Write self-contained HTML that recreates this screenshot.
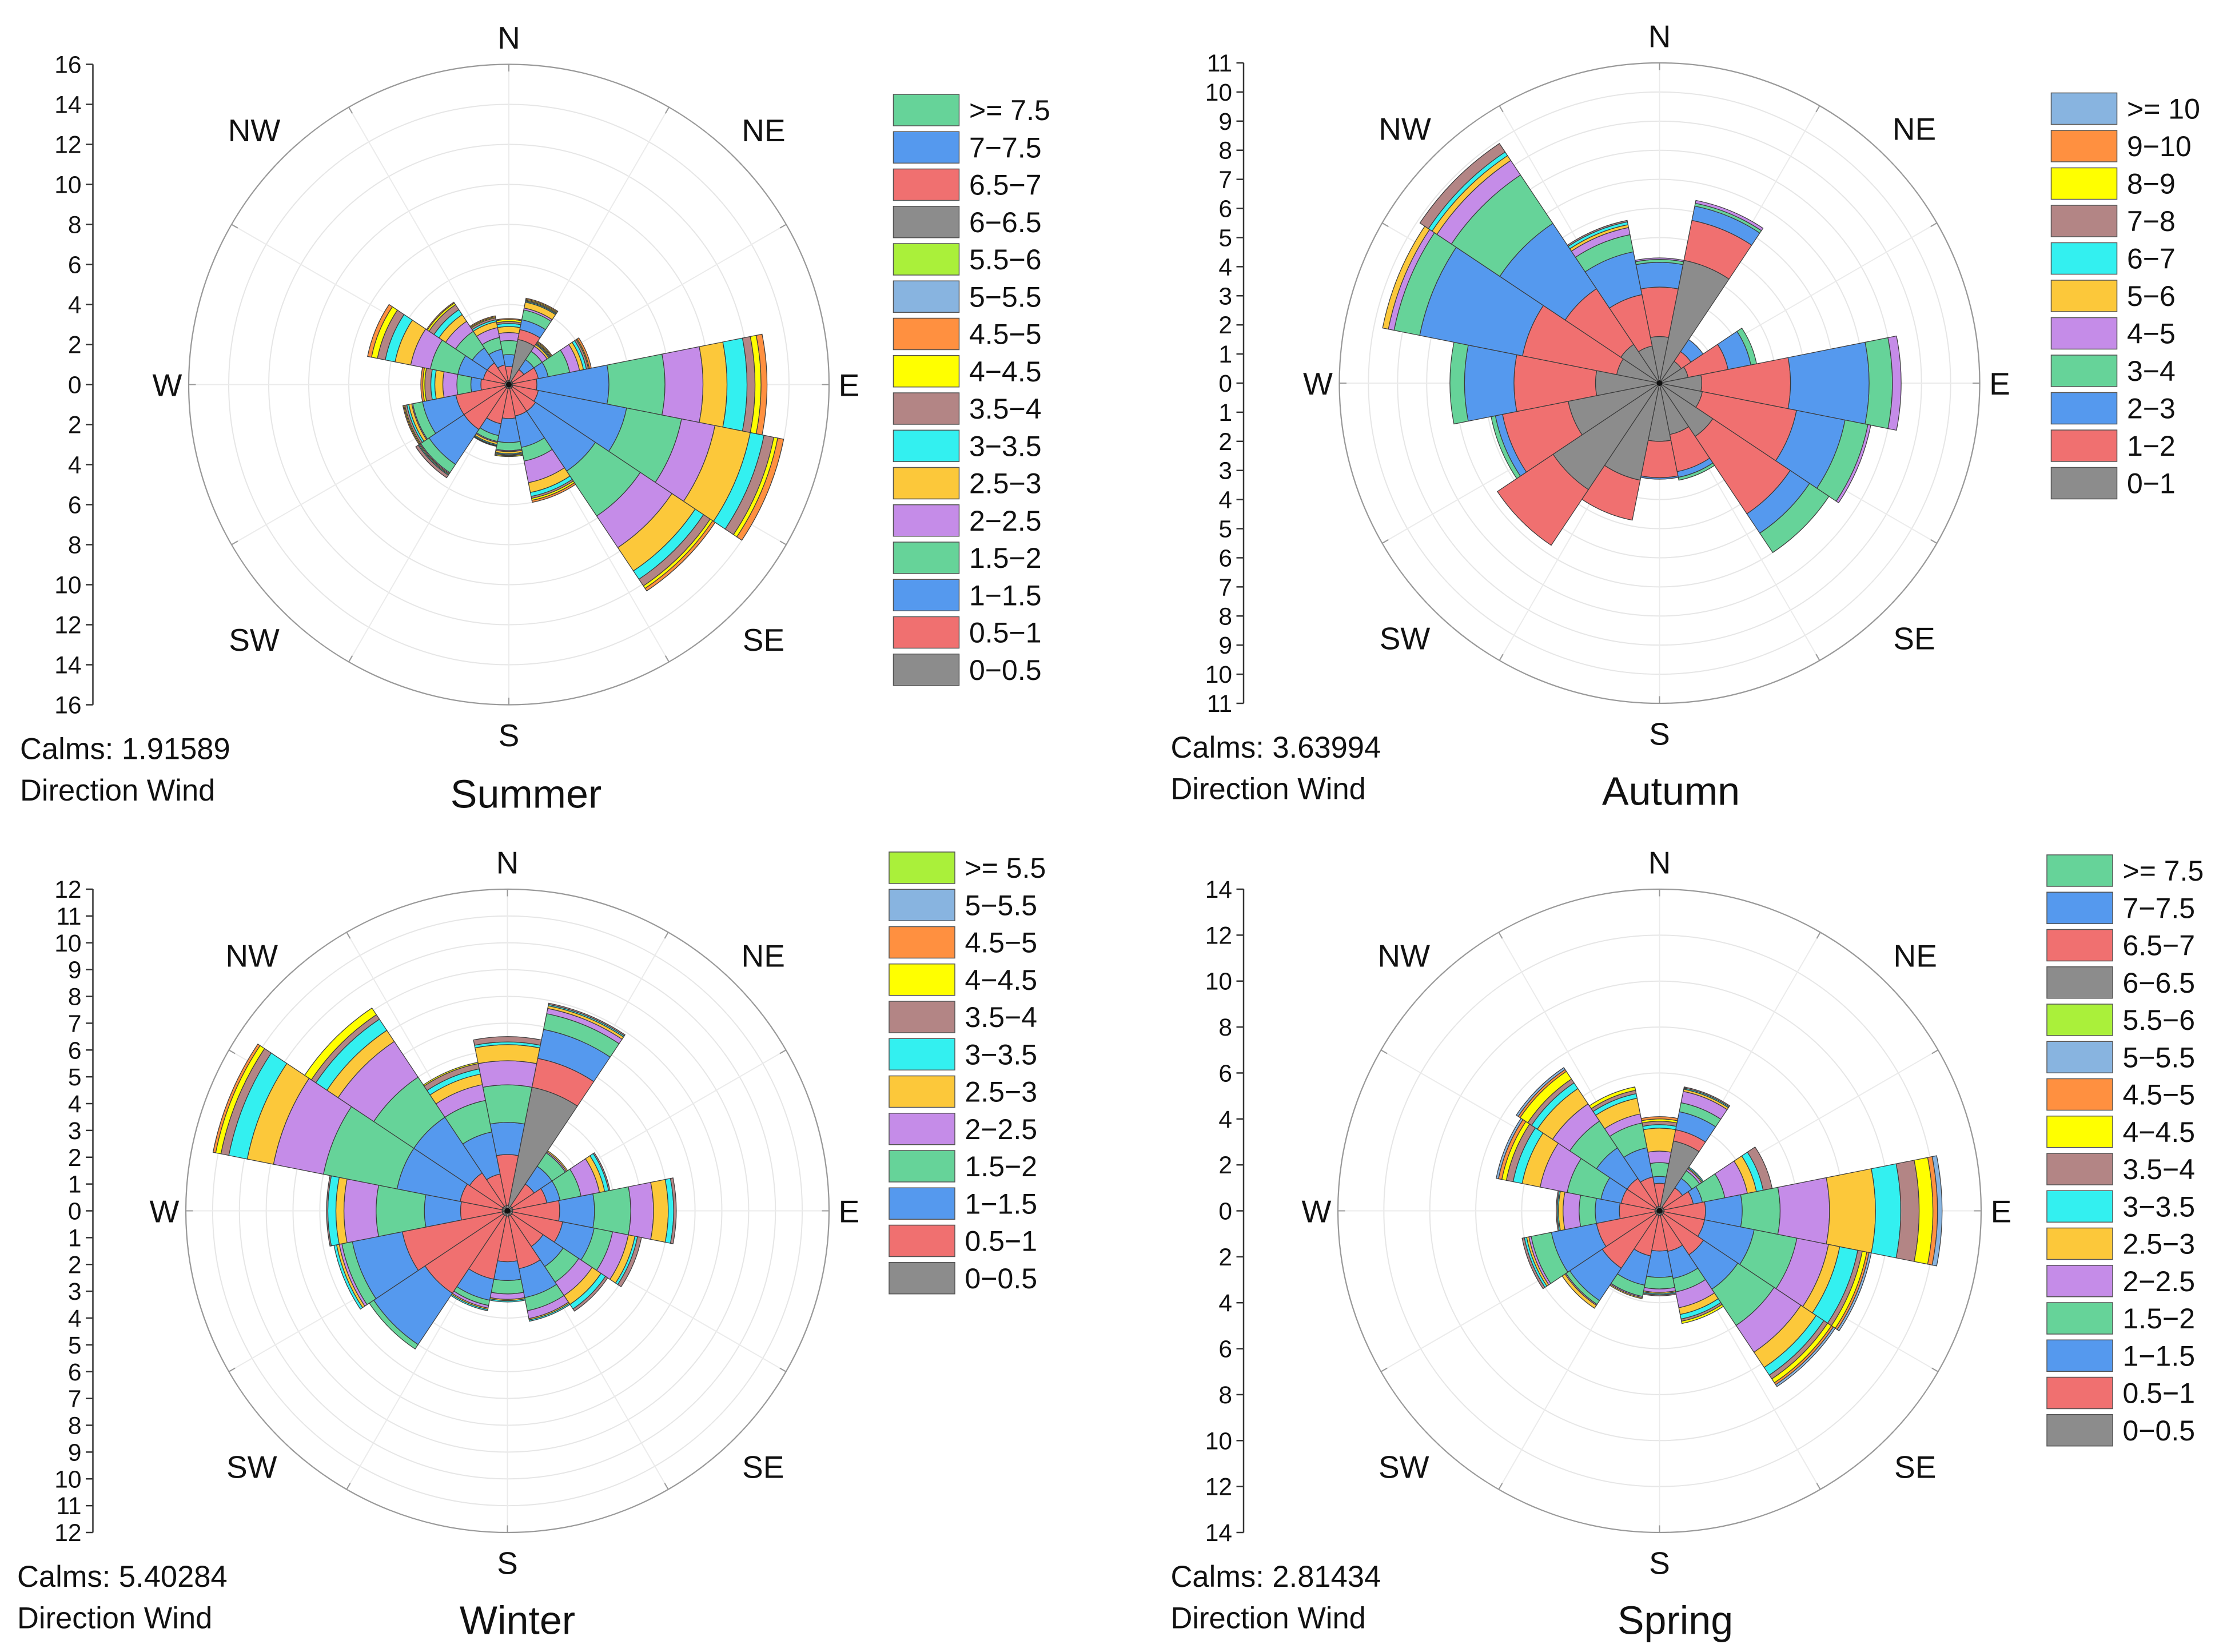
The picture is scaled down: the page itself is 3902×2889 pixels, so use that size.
<!DOCTYPE html>
<html><head><meta charset="utf-8"><style>
html,body{margin:0;padding:0;background:#fff}
svg{display:block}
text{font-family:"Liberation Sans",Arial,sans-serif;fill:#111}
</style></head><body>
<svg id="root" xmlns="http://www.w3.org/2000/svg" width="3902" height="2889" viewBox="0 0 1560.8 1155.6"></svg>
<script>
// shared
const dirNames = ["N","NNE","NE","ENE","E","ESE","SE","SSE","S","SSW","SW","WSW","W","WNW","NW","NNW"];
const palette = ["#8c8c8c","#f07070","#5599ee","#66d399","#c58ce8","#fcc83a","#33f0f0","#b38585","#ffff00","#ff9040","#88b4e0","#aaf03a","#8c8c8c","#f07070","#5599ee","#66d399"];

// Summer: cumulative frequency (%) per direction, per speed bin
const summerBins = ["0−0.5","0.5−1","1−1.5","1.5−2","2−2.5","2.5−3","3−3.5","3.5−4","4−4.5","4.5−5","5−5.5","5.5−6","6−6.5","6.5−7","7−7.5",">= 7.5"];
const summerCum = [
[0.2,0.9,1.5,2.2,2.6,2.9,3.05,3.15,3.25,3.3],
[2.3,2.8,3.3,3.8,3.9,4.2,4.25,4.3,4.35,4.4],
[0.2,0.9,1.5,2.0,2.3,2.4,2.45,2.5,2.55,2.6],
[0.2,1.5,2.0,3.1,3.6,3.8,3.95,4.05,4.1,4.2],
[0.2,1.4,5.0,7.8,9.7,10.9,11.9,12.3,12.6,12.9],
[0.2,1.5,6.0,8.8,10.5,12.3,13.0,13.5,13.7,14.0],
[0.2,1.6,5.2,7.9,9.8,11.2,11.7,12.1,12.25,12.4],
[0.2,1.6,3.2,3.9,5.0,5.5,5.7,5.8,5.9,6.0],
[0.2,1.7,2.9,3.3,3.35,3.45,3.5,3.55,3.6,3.6],
[0.2,2.0,2.6,2.9,2.95,3.05,3.1,3.12,3.15,3.15],
[0.2,2.7,4.8,5.3,5.35,5.4,5.45,5.6,5.6,5.6],
[0.2,2.7,4.4,4.9,4.95,5.1,5.2,5.3,5.35,5.4],
[0.2,1.4,1.9,2.6,3.3,3.7,3.9,4.2,4.3,4.4],
[0.2,1.3,2.6,4.0,5.0,5.8,6.3,6.7,7.0,7.2],
[0.2,1.3,2.2,3.2,3.8,4.2,4.5,4.8,4.9,4.95],
[0.2,1.0,1.8,2.4,2.9,3.2,3.3,3.4,3.45,3.5]];
const summerTicks = [16,14,12,10,8,6,4,2,0];

// Autumn
const autumnBins = ["0−1","1−2","2−3","3−4","4−5","5−6","6−7","7−8","8−9","9−10",">= 10"];
const autumnCum = [
[1.6,3.3,4.15,4.25,4.3],
[4.3,5.7,6.2,6.3,6.4],
[0.9,1.3,1.8],
[1.0,2.4,3.2,3.4],
[1.45,4.5,7.2,8.0,8.3],
[1.5,4.8,6.5,7.3,7.4],
[2.2,5.4,6.2,7.0],
[1.8,3.1,3.3,3.4],
[2.0,3.25,3.3],
[3.4,4.8],
[4.4,6.7],
[3.2,5.5,5.75,5.9],
[2.2,5.0,6.7,7.2],
[1.5,4.8,8.4,9.3,9.5,9.7],
[1.6,3.9,6.6,8.6,9.2,9.4,9.55,9.9],
[1.3,3.1,4.6,5.2,5.45,5.55,5.65,5.7]];
const autumnTicks = [11,10,9,8,7,6,5,4,3,2,1,0];

// Winter
const winterBins = ["0−0.5","0.5−1","1−1.5","1.5−2","2−2.5","2.5−3","3−3.5","3.5−4","4−4.5","4.5−5","5−5.5",">= 5.5"];
const winterCum = [
[0.2,2.1,3.3,4.7,5.6,6.2,6.3,6.5],
[4.7,5.8,6.9,7.5,7.7,7.8,7.85,7.9],
[0.2,1.2,2.0,2.6,2.65,2.7],
[0.2,1.5,2.0,2.8,3.5,3.7,3.85,3.9],
[0.2,1.95,3.25,4.6,5.45,6.0,6.2,6.3],
[0.2,2.1,3.3,4.0,4.6,4.85,4.95,5.1],
[0.2,1.6,2.5,3.2,3.8,4.2,4.4,4.5],
[0.2,2.2,3.3,3.8,4.1,4.15,4.2],
[0.2,1.9,2.6,3.1,3.3,3.35,3.4],
[0.2,2.6,3.4,3.6,3.7,3.75,3.8],
[0.2,3.7,6.0,6.2],
[0.2,4.0,5.9,6.3,6.4,6.5,6.6],
[0.2,1.75,3.1,4.9,6.1,6.4,6.7,6.75],
[0.2,1.8,4.2,7.0,8.9,9.9,10.6,10.9,11.1,11.2],
[0.2,1.7,4.2,6.0,7.6,8.1,8.6,8.8,9.1],
[0.2,1.4,3.0,4.2,4.8,5.2,5.4,5.6,5.65]];
const winterTicks = [12,11,10,9,8,7,6,5,4,3,2,1,0];

// Spring
const springBins = summerBins;
const springCum = [
[0.2,1.2,1.5,2.1,2.6,3.6,3.75,3.9,4.0,4.1],
[3.1,3.6,4.4,4.8,5.3,5.4,5.45,5.5],
[0.2,1.2,1.7,2.1,2.2,2.25,2.3],
[0.2,1.5,1.9,2.9,3.9,4.3,4.6,5.0],
[0.2,2.0,3.6,5.25,7.4,9.4,10.5,11.3,11.9,12.1,12.3],
[0.2,2.0,4.2,6.1,7.5,8.0,8.8,9.0,9.2,9.3,9.4],
[0.2,2.3,4.1,6.0,7.4,8.2,8.6,8.8,9.0,9.1,9.2],
[0.2,1.8,3.0,3.6,4.3,4.6,4.8,4.9,5.0],
[0.2,1.75,2.9,3.4,3.55,3.6,3.65,3.7],
[0.2,2.0,3.3,3.8,3.85,3.9],
[0.2,3.0,4.7,4.9,4.95,5.1],
[0.2,2.8,4.8,5.7,5.8,5.9,6.0,6.1],
[0.2,1.75,2.8,3.5,4.2,4.4,4.45,4.5],
[0.2,1.7,2.6,4.1,5.3,6.1,6.5,6.8,7.0,7.15,7.25],
[0.2,1.7,3.3,4.7,5.6,6.4,6.7,6.9,7.3,7.4,7.5],
[0.2,1.5,2.8,3.9,4.3,5.0,5.2,5.35,5.5]];
const springTicks = [14,12,10,8,6,4,2,0];

const NS = "http://www.w3.org/2000/svg";
const root = document.getElementById('root');
function mk(tag, attrs, parent, txt){
  const e = document.createElementNS(NS, tag);
  for (const k in attrs) e.setAttribute(k, attrs[k]);
  if (txt !== undefined) e.textContent = txt;
  (parent || root).appendChild(e);
  return e;
}
function pol(cx, cy, r, deg){ const a = deg*Math.PI/180; return [cx + r*Math.sin(a), cy - r*Math.cos(a)]; }
function sector(cx, cy, r0, r1, a0, a1){
  const p1 = pol(cx,cy,r1,a0), p2 = pol(cx,cy,r1,a1);
  if (r0 <= 0.01) return `M${cx},${cy}L${p1[0]},${p1[1]}A${r1},${r1} 0 0 1 ${p2[0]},${p2[1]}Z`;
  const q1 = pol(cx,cy,r0,a1), q2 = pol(cx,cy,r0,a0);
  return `M${q2[0]},${q2[1]}L${p1[0]},${p1[1]}A${r1},${r1} 0 0 1 ${p2[0]},${p2[1]}L${q1[0]},${q1[1]}A${r0},${r0} 0 0 0 ${q2[0]},${q2[1]}Z`;
}

function drawRose(o){
  const g = mk('g', {});
  
  
  const {cx, cy, R, max} = o;
  const rs = v => v * R / max;
  const grid = mk('g', {}, g);
  
  
  for (let v = o.ring; v < max - 1e-6; v += o.ring) {
    mk('circle', {cx, cy, r: rs(v), fill:'none', stroke:'#e6e6e6', 'stroke-width':0.8}, grid);
  }
  for (let a = 0; a < 360; a += 30) {
    const p = pol(cx, cy, R, a);
    mk('line', {x1:cx, y1:cy, x2:p[0], y2:p[1], stroke:'#ebebeb', 'stroke-width':0.8}, grid);
    const t = pol(cx, cy, R - 5, a);
    mk('line', {x1:t[0], y1:t[1], x2:p[0], y2:p[1], stroke:'#999', 'stroke-width':0.8}, grid);
  }
  const oc = mk('circle', {cx, cy, r: R, fill:'none', stroke:'#999', 'stroke-width':0.9}, g);
  
  
  o.cum.forEach((arr, d) => {
    const a0 = d*22.5 - 11.25, a1 = d*22.5 + 11.25;
    let prev = 0;
    arr.forEach((v, b) => {
      if (v - prev > 0.001) {
        const p = mk('path', {d: sector(cx, cy, rs(prev), rs(v), a0, a1), fill: palette[b], stroke:'#3a3a3a', 'stroke-width':0.5}, g);
        
        
      }
      prev = v;
    });
  });
  mk('circle', {cx, cy, r:2, fill:'#111'}, g);
  const lab = [["N",0,R+19],["NE",45,R+28],["E",90,R+14],["SE",135,R+28],["S",180,R+21],["SW",225,R+28],["W",270,R+15],["NW",315,R+28]];
  lab.forEach(l => {
    const p = pol(cx, cy, l[2], l[1]);
    const t = mk('text', {x:p[0], y:p[1]+8, 'font-size':22, 'text-anchor':'middle'}, g, l[0]);
    
    
  });
  const ax = mk('g', {}, g);
  
  
  mk('line', {x1:o.ax, y1:cy-R, x2:o.ax, y2:cy+R, stroke:'#333', 'stroke-width':1}, ax);
  const all = o.ticks.concat(o.ticks.slice(0, -1).reverse().map(v => -v));
  all.forEach(v => {
    const y = cy - rs(v);
    mk('line', {x1:o.ax-5, y1:y, x2:o.ax, y2:y, stroke:'#333', 'stroke-width':1}, ax);
    const t = mk('text', {x:o.ax-8, y:y+6, 'font-size':17, 'text-anchor':'end'}, ax, String(Math.abs(v)));
    
    
  });
  const lg = mk('g', {}, g);
  
  
  const n = o.bins.length;
  for (let i = 0; i < n; i++) {
    const b = n - 1 - i;
    const y = o.ly + i*o.lstep;
    const e = mk('g', {}, lg);
    
    
    mk('rect', {x:o.lx, y:y, width:46, height:22, fill:palette[b], stroke:'#555', 'stroke-width':0.6}, e);
    mk('text', {x:o.lx+53, y:y+18, 'font-size':20}, e, o.bins[b]);
  }
  const c1 = mk('text', {x:o.calx, y:o.caly, 'font-size':21}, g, 'Calms: ' + o.calms);
  
  
  const c2 = mk('text', {x:o.calx, y:o.caly+29, 'font-size':21}, g, 'Direction Wind');
  
  
  const tt = mk('text', {x:o.tx, y:o.ty, 'font-size':28, 'text-anchor':'middle'}, g, o.title);
  
  
}

drawRose({name:'summer', cx:356, cy:269, R:224, max:16, ring:2, ax:65, ticks:summerTicks, cum:summerCum, bins:summerBins,
  lx:625, ly:66, lstep:26.1, calms:'1.91589', calx:14, caly:531, title:'Summer', tx:368, ty:565});
drawRose({name:'autumn', cx:1161, cy:268, R:224, max:11, ring:1, ax:870, ticks:autumnTicks, cum:autumnCum, bins:autumnBins,
  lx:1435, ly:65, lstep:26.2, calms:'3.63994', calx:819, caly:530, title:'Autumn', tx:1169, ty:563});
drawRose({name:'winter', cx:355, cy:847, R:225, max:12, ring:1, ax:65, ticks:winterTicks, cum:winterCum, bins:winterBins,
  lx:622, ly:596, lstep:26.1, calms:'5.40284', calx:12, caly:1110, title:'Winter', tx:362, ty:1143});
drawRose({name:'spring', cx:1161, cy:847, R:225, max:14, ring:2, ax:870, ticks:springTicks, cum:springCum, bins:springBins,
  lx:1432, ly:598, lstep:26.1, calms:'2.81434', calx:819, caly:1110, title:'Spring', tx:1172, ty:1143});
</script>
</body></html>
